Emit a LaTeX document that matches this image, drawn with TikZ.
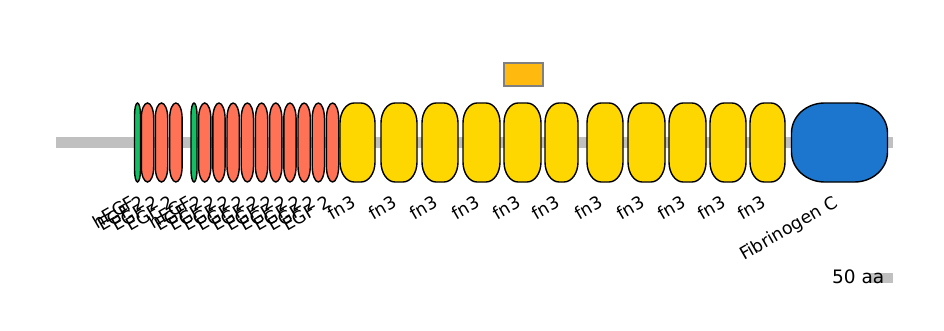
\documentclass[tikz,border=0pt]{standalone}
\usepackage{fontspec}
\setmainfont{DejaVu Sans}
\definecolor{fncol}{HTML}{FFD700}
\definecolor{egfcol}{HTML}{FF7256}
\definecolor{hegfcol}{HTML}{14BE64}
\definecolor{fibcol}{HTML}{1C76CD}
\definecolor{motcol}{HTML}{FFB90F}
\definecolor{bbcol}{HTML}{C0C0C0}
\newcommand\domain[5]{%
  \draw[#1] (#2,{148+#5}) -- (#2,{227-#5})
    arc[start angle=180,end angle=90,x radius=#4,y radius=#5] -- ({#3-#4},227)
    arc[start angle=90,end angle=0,x radius=#4,y radius=#5] -- (#3,{148+#5})
    arc[start angle=0,end angle=-90,x radius=#4,y radius=#5] -- ({#2+#4},148)
    arc[start angle=-90,end angle=-180,x radius=#4,y radius=#5] -- cycle;}
\tikzset{
  dombox/.style={draw=black,line width=1.4pt},
  fnbox/.style={dombox,fill=fncol},
  egfbox/.style={dombox,fill=egfcol},
  hegfbox/.style={dombox,fill=hegfcol},
  fibbox/.style={dombox,fill=fibcol},
  lab/.style={rotate=30,anchor=north east,inner sep=1pt,font=\fontsize{17.5}{17.5}\selectfont},
}
\begin{document}
\begin{tikzpicture}[x=1pt,y=1pt]
\useasboundingbox (0,0) rectangle (944,330);
% backbone
\fill[bbcol] (56,182) rectangle (893,193);
% hEGF domains
\domain{hegfbox}{134.5}{140.5}{3}{12}
\domain{hegfbox}{191}{197}{3}{12}
\node[lab] (lh1) at (130.5,137) {hEGF};
% EGF 2 first group
\foreach \a/\i in {141.3/1,155.3/2,169.7/3}{
  \domain{egfbox}{\a}{\a+12.4}{6.2}{15}
}
\foreach \c/\i in {140.5/1,154.5/2,169/3}{
  \node[lab] (le\i) at (\c,137) {EGF 2};
}
\node[lab] (lh2) at (187,137) {hEGF};
% EGF 2 second group
\foreach \k in {0,...,9}{
  \pgfmathsetmacro\xa{198.6+14.2*\k}
  \domain{egfbox}{\xa}{\xa+12.3}{6.15}{16}
  \pgfmathsetmacro\xc{\xa-0.8}
  \node[lab] (lf\k) at (\xc,137) {EGF 2};
}
% fn3 domains
\foreach \a/\b [count=\i] in {340/375,381/417,422/458,463/500,504/541,545/578,587/623,628/665,669/706,710/746,750/785}{
  \domain{fnbox}{\a}{\b}{14}{20}
  \pgfmathsetmacro\xc{(\a+\b)/2-7}
  \node[lab] (ln\i) at (\xc,137) {fn3};
}
% Fibrinogen C
\domain{fibbox}{791.5}{887.5}{33}{30}
\node[lab] (lfib) at (832.5,137) {Fibrinogen C};
% motif
\node[draw=gray,line width=1.6pt,fill=motcol,minimum width=39pt,minimum height=23pt,inner sep=0pt] (mot) at (523.5,255.3) {};
% scale bar
\fill[bbcol] (869,47) rectangle (893,57);
\node[anchor=base east,inner sep=0pt,font=\fontsize{18.5}{18.5}\selectfont] (scale) at (884.5,46.7) {50 aa};
\end{tikzpicture}
\end{document}
